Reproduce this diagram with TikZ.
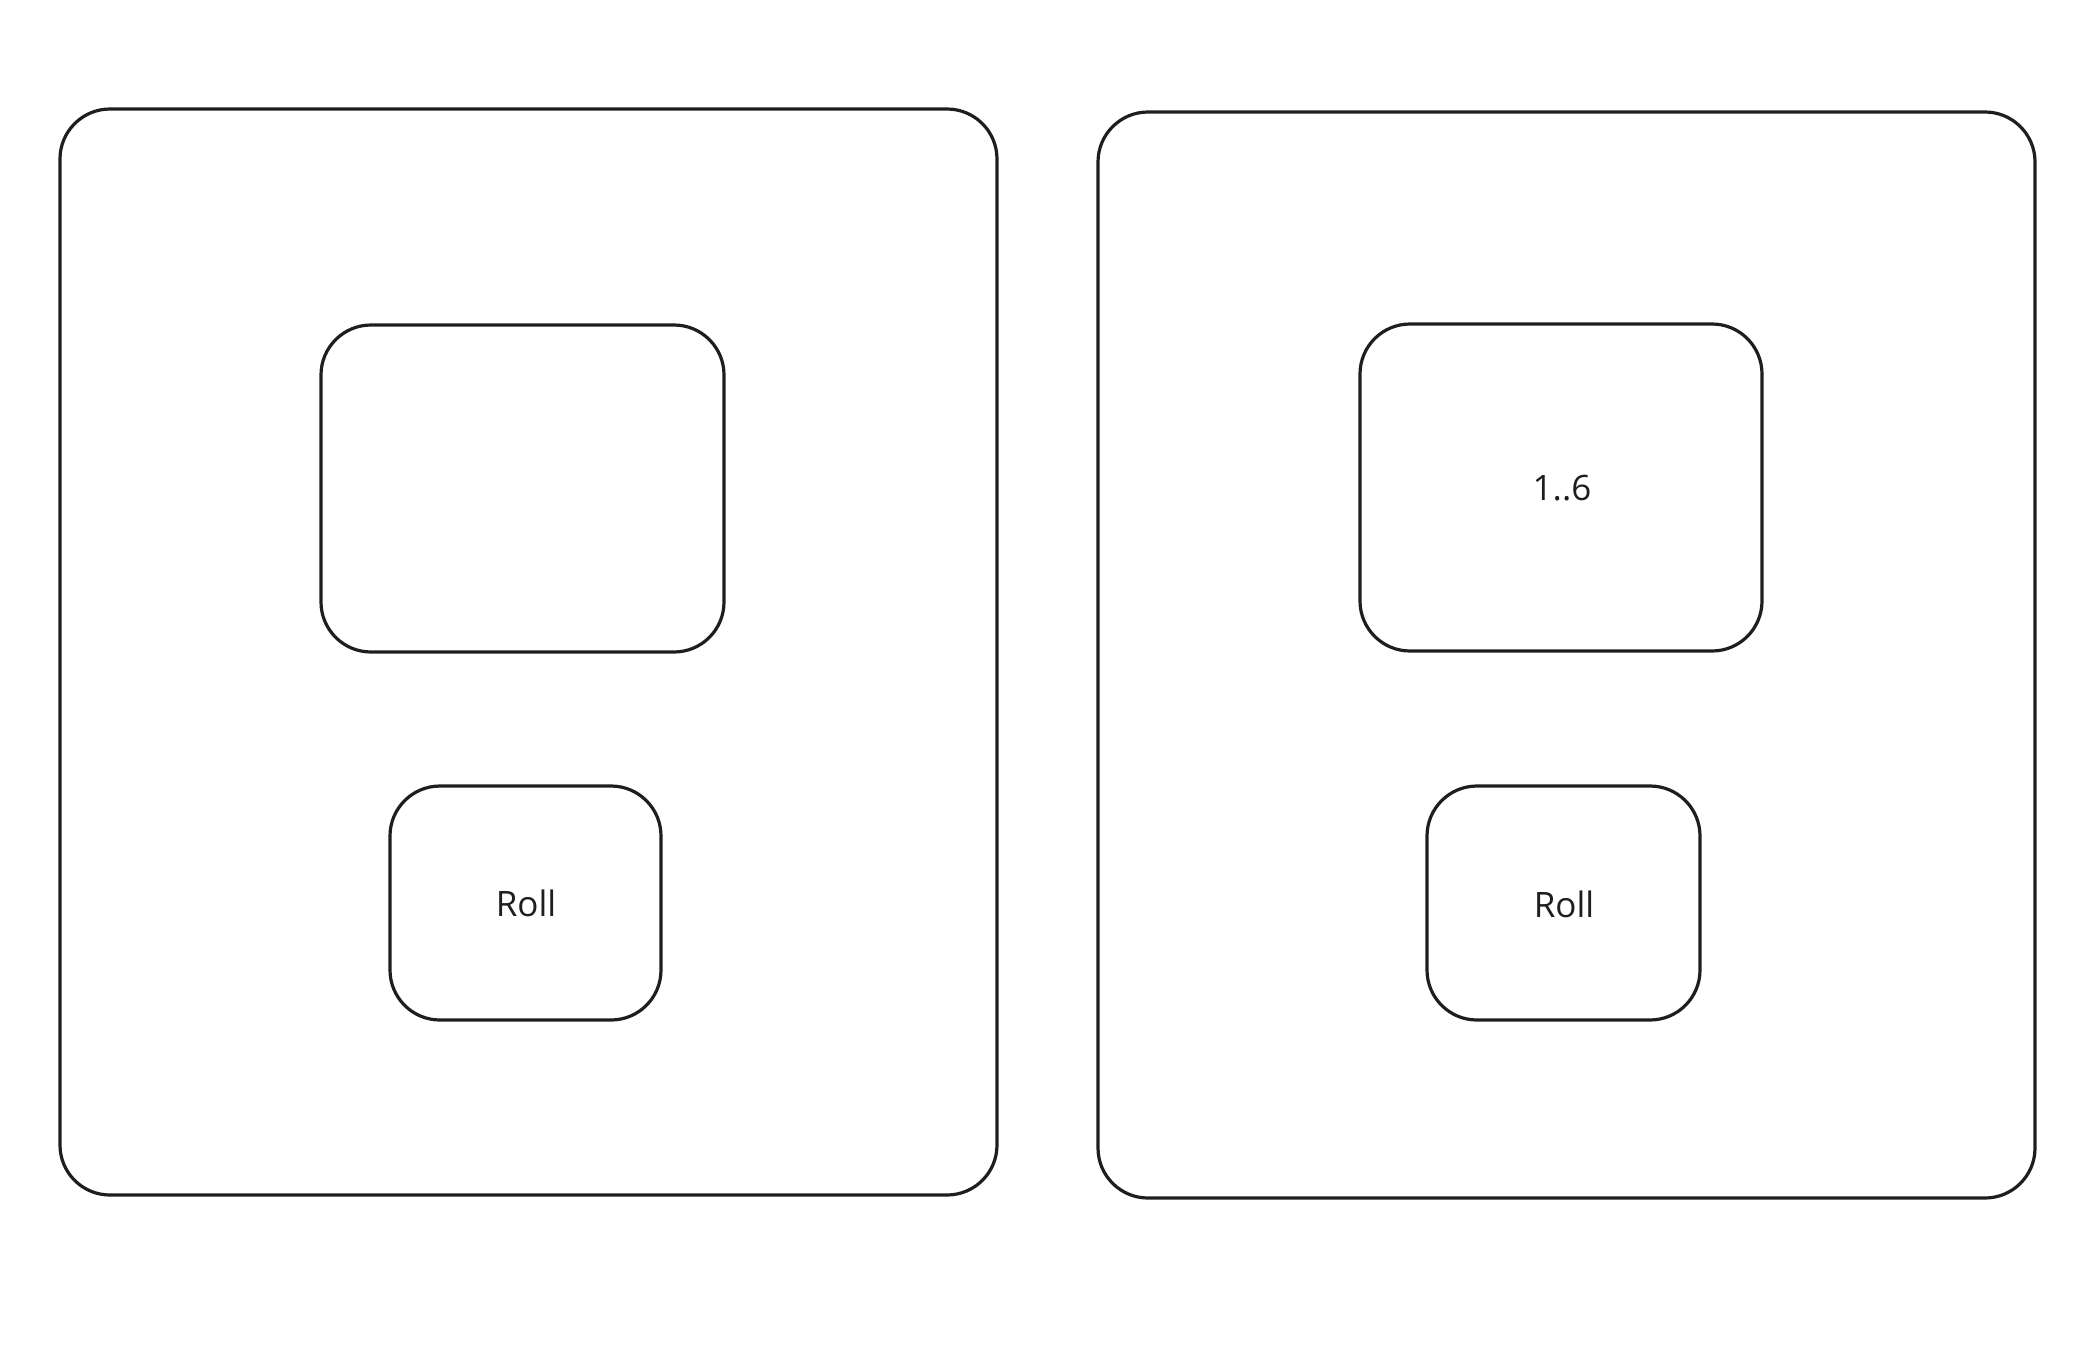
\documentclass[tikz,border=0pt]{standalone}
\usepackage{fontspec}
\setmainfont{Open Sans}
\definecolor{ink}{HTML}{1E1E1E}
\begin{document}
\begin{tikzpicture}[x=1pt,y=-1pt,
  box/.style={draw=ink,line width=3.2pt,rounded corners=50pt},
  lbl/.style={font=\fontsize{35}{42}\selectfont,text=ink}]
\useasboundingbox (0,0) rectangle (2082,1368);
% left panel
\draw[box] (60,109) rectangle (997,1195);
\draw[box] (321,325) rectangle (724,652);
\draw[box] (390,786) rectangle (661,1020);
\node[lbl] (lroll) at (526,903) {Roll};
% right panel
\draw[box] (1098,112) rectangle (2035,1198);
\draw[box] (1360,324) rectangle (1762,651);
\draw[box] (1427,786) rectangle (1700,1020);
\node[lbl] (rval) at (1562,488) {1..6};
\node[lbl] (rroll) at (1564,904) {Roll};
\end{tikzpicture}
\end{document}
